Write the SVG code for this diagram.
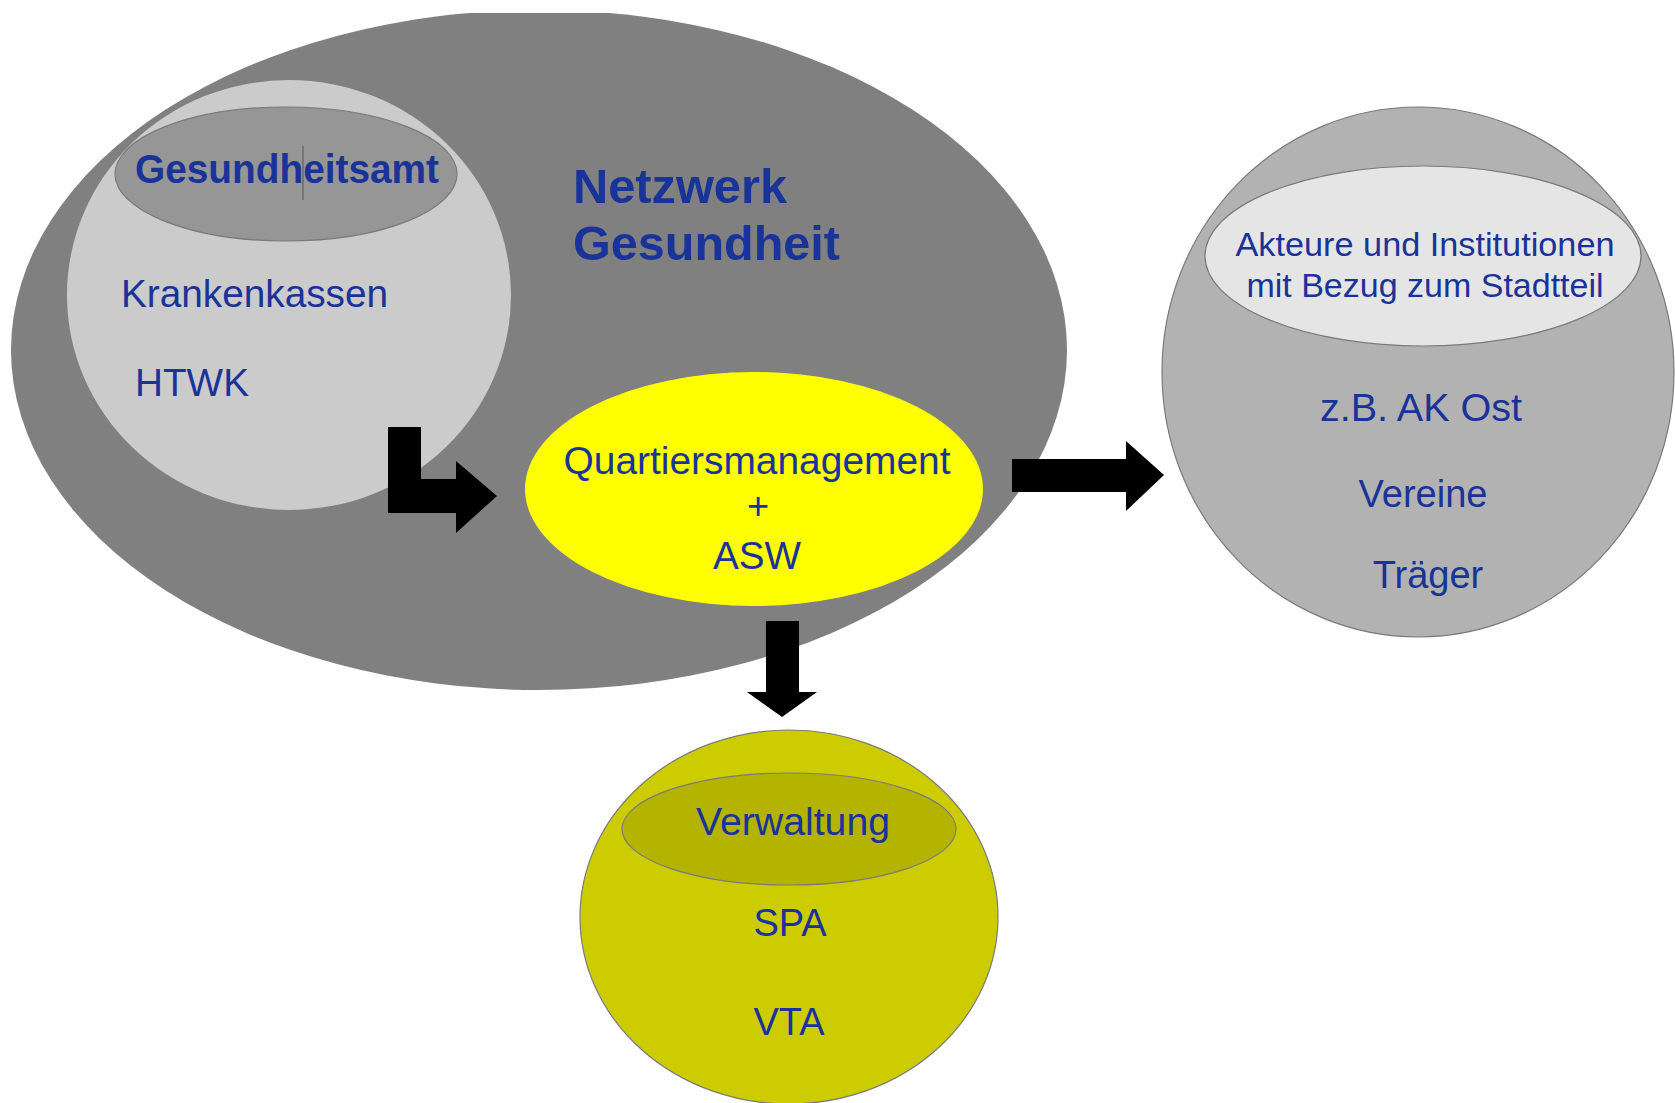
<svg xmlns="http://www.w3.org/2000/svg" width="1675" height="1103" viewBox="0 0 1675 1103">
<defs>
<clipPath id="clipTop"><rect x="0" y="13" width="1675" height="1090"/></clipPath>
<style>
.t{font-family:"Liberation Sans",Arial,sans-serif;fill:#1a3399;}
.b{font-weight:bold;}
.c{text-anchor:middle;}
.ln{stroke:#7a7a7a;stroke-width:1.2;}
.arrow{fill:#000;}
</style>
</defs>
<rect x="0" y="0" width="1675" height="1103" fill="#ffffff"/>

<g id="netzwerk">
<ellipse cx="539" cy="350" rx="528" ry="340" fill="#808080" clip-path="url(#clipTop)"/>
<text class="t b" x="573" y="203" font-size="48" textLength="214" lengthAdjust="spacingAndGlyphs">Netzwerk</text>
<text class="t b" x="573" y="260" font-size="48" textLength="267" lengthAdjust="spacingAndGlyphs">Gesundheit</text>
</g>

<g id="gruppe-links">
<ellipse cx="289" cy="295" rx="222" ry="215" fill="#cbcbcb"/>
<ellipse cx="286" cy="174" rx="171" ry="67" fill="#969696" class="ln"/>
<text class="t b c" x="287" y="183" font-size="40" textLength="304" lengthAdjust="spacingAndGlyphs">Gesundheitsamt</text>
<line x1="303" y1="146" x2="303" y2="200" stroke="#555" stroke-width="1"/>
<text class="t" x="121" y="307" font-size="38" textLength="267" lengthAdjust="spacingAndGlyphs">Krankenkassen</text>
<text class="t" x="135" y="396" font-size="38" textLength="114" lengthAdjust="spacingAndGlyphs">HTWK</text>
</g>

<g id="quartiersmanagement">
<ellipse cx="754" cy="489" rx="229" ry="117" fill="#ffff00"/>
<text class="t c" x="757" y="474" font-size="38" textLength="387" lengthAdjust="spacingAndGlyphs">Quartiersmanagement</text>
<text class="t c" x="758" y="519" font-size="38">+</text>
<text class="t c" x="757" y="569" font-size="38" textLength="88" lengthAdjust="spacingAndGlyphs">ASW</text>
</g>

<g id="akteure">
<ellipse cx="1418" cy="372" rx="256" ry="265" fill="#b2b2b2" class="ln"/>
<ellipse cx="1423" cy="256" rx="218" ry="90" fill="#e5e5e5" class="ln"/>
<text class="t c" x="1425" y="256" font-size="34" textLength="379" lengthAdjust="spacingAndGlyphs">Akteure und Institutionen</text>
<text class="t c" x="1425" y="297" font-size="34">mit Bezug zum Stadtteil</text>
<text class="t c" x="1421" y="421" font-size="38" textLength="202" lengthAdjust="spacingAndGlyphs">z.B. AK Ost</text>
<text class="t c" x="1423" y="507" font-size="38">Vereine</text>
<text class="t c" x="1428" y="588" font-size="38">Träger</text>
</g>

<g id="verwaltung">
<ellipse cx="789" cy="917" rx="209" ry="187" fill="#cccc00" class="ln"/>
<ellipse cx="789" cy="829" rx="167" ry="56" fill="#b3b300" class="ln"/>
<text class="t c" x="793" y="835" font-size="38" textLength="194" lengthAdjust="spacingAndGlyphs">Verwaltung</text>
<text class="t c" x="790" y="936" font-size="38">SPA</text>
<text class="t c" x="789" y="1035" font-size="38">VTA</text>
</g>

<g id="connectors">
<polygon class="arrow" points="388,427 421,427 421,479 456,479 456,461 497,496 456,533 456,513 388,513"/>
<polygon class="arrow" points="1012,459 1126,459 1126,441 1164,475 1126,511 1126,492 1012,492"/>
<polygon class="arrow" points="766,621 799,621 799,692 817,692 782,717 747,692 766,692"/>
</g>
</svg>
